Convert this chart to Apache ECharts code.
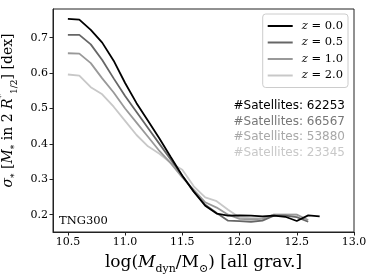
<!DOCTYPE html>
<html><head><meta charset="utf-8">
<script src="https://cdn.jsdelivr.net/npm/echarts@6/dist/echarts.min.js"></script>
<style>html,body{margin:0;padding:0;background:#fff}#c{width:374px;height:277px}</style>
</head><body><div id="c"></div>
<script>
const massBins = [10.5,10.6,10.7,10.8,10.9,11.0,11.1,11.2,11.3,11.4,11.5,11.6,11.7,11.8,11.9,12.0,12.1,12.2,12.3,12.4,12.5,12.6,12.7];
const sigmaZ00 = [0.753,0.751,0.722,0.686,0.635,0.572,0.515,0.465,0.415,0.362,0.310,0.265,0.225,0.203,0.197,0.198,0.197,0.195,0.197,0.194,0.182,0.198,0.195];
const sigmaZ05 = [0.708,0.708,0.681,0.637,0.585,0.535,0.490,0.445,0.400,0.355,0.310,0.265,0.228,0.205,0.183,0.182,0.180,0.183,0.197,0.197,0.193,0.180];
const sigmaZ10 = [0.656,0.655,0.628,0.585,0.545,0.500,0.460,0.420,0.380,0.345,0.305,0.270,0.235,0.220,0.200,0.188,0.187,0.188,0.200,0.200,0.200,0.185];
const sigmaZ20 = [0.596,0.593,0.560,0.540,0.505,0.465,0.425,0.393,0.372,0.346,0.327,0.280,0.249,0.238,0.214,0.192,0.190,0.190,0.200,0.200,0.200];
const seriesNames = ['z = 0.0','z = 0.5','z = 1.0','z = 2.0'];
const seriesColors = ['#000000','#666666','#999999','#c8c8c8'];
const satelliteCounts = [62253, 66567, 53880, 23345];
const satelliteColors = ['#000000','#777777','#a8a8a8','#c8c8c8'];
const xTicks = [10.5,11.0,11.5,12.0,12.5,13.0];
const yTicks = [0.2,0.3,0.4,0.5,0.6,0.7];

const allSigma = [sigmaZ00, sigmaZ05, sigmaZ10, sigmaZ20];
const serif = 'DejaVu Serif';
const chart = echarts.init(document.getElementById('c'), null, {renderer:'canvas'});

const series = allSigma.map((arr, i) => ({
  name: seriesNames[i],
  type: 'line',
  data: arr.map((v, j) => [massBins[j], v]),
  showSymbol: false,
  symbol: 'none',
  lineStyle: {color: seriesColors[i], width: 1.8},
  itemStyle: {color: seriesColors[i]},
  z: 10 - i
}));

const graphics = satelliteCounts.map((n, i) => ({
  type: 'text',
  right: 29,
  top: 100 + i * 15.6,
  style: {text: '#Satellites: ' + n, fill: satelliteColors[i], font: '12px "DejaVu Sans"'}
}));
graphics.push({
  type: 'text', left: 59, top: 215,
  style: {text: 'TNG300', fill: '#000', font: '11.5px "DejaVu Serif"'}
});

chart.setOption({
  animation: false,
  backgroundColor: '#fff',
  grid: {left: 53, right: 20, top: 9, bottom: 45, show: true, borderColor: '#222', borderWidth: 1, outerBoundsMode: 'none', containLabel: false},
  legend: {
    orient: 'vertical', right: 26, top: 14,
    data: seriesNames,
    icon: 'rect', itemWidth: 25, itemHeight: 2, itemGap: 4.5,
    padding: [6, 5, 6, 5],
    borderColor: '#ccc', borderWidth: 1, borderRadius: 3,
    backgroundColor: '#fff',
    formatter: name => '{i|z}' + name.slice(1),
    textStyle: {fontFamily: serif, fontSize: 11.5, color: '#000', padding: [0,0,0,4],
      rich: {i: {fontFamily: serif, fontStyle: 'italic', fontSize: 11.5, color: '#000'}}}
  },
  xAxis: {
    type: 'value', min: 10.37, max: 13.0,
    name: '{n|log(}{i|M}{s|dyn}{n|/M}{s|⊙}{n|) [all grav.]}',
    nameLocation: 'middle', nameGap: 19,
    nameTextStyle: {fontFamily: serif, fontSize: 17, color: '#000',
      rich: {
        n: {fontFamily: serif, fontSize: 17, color: '#000'},
        i: {fontFamily: serif, fontSize: 17, fontStyle: 'italic', color: '#000'},
        s: {fontFamily: serif, fontSize: 11, color: '#000', verticalAlign: 'bottom', lineHeight: 24}
      }},
    splitLine: {show: false},
    axisLine: {show: true, onZero: false, lineStyle: {color: '#222', width: 1}},
    axisTick: {show: true, length: 3.5, lineStyle: {color: '#222'}, customValues: xTicks},
    axisLabel: {customValues: xTicks, formatter: v => v.toFixed(1), fontFamily: serif, fontSize: 11, color: '#000', margin: 5}
  },
  yAxis: {
    type: 'value', min: 0.151, max: 0.781,
    name: '{i|σ}{s|*}{n| [}{i|M}{s|*}{n| in 2 }{i|R}{p|*}{s|1/2}{n|] [dex]}',
    nameLocation: 'middle', nameRotate: 90, nameGap: 31,
    nameTextStyle: {fontFamily: serif, fontSize: 14, color: '#000', padding: [0, 0, 0, 20],
      rich: {
        n: {fontFamily: serif, fontSize: 14, color: '#000'},
        i: {fontFamily: serif, fontSize: 14, fontStyle: 'italic', color: '#000'},
        s: {fontFamily: serif, fontSize: 9, color: '#000', verticalAlign: 'bottom', lineHeight: 22},
        p: {fontFamily: serif, fontSize: 9, color: '#000', verticalAlign: 'top', lineHeight: 22}
      }},
    splitLine: {show: false},
    axisLine: {show: true, onZero: false, lineStyle: {color: '#222', width: 1}},
    axisTick: {show: true, length: 3.5, lineStyle: {color: '#222'}, customValues: yTicks},
    axisLabel: {customValues: yTicks, formatter: v => v.toFixed(1), fontFamily: serif, fontSize: 11, color: '#000', margin: 5}
  },
  graphic: graphics,
  series: series
});
</script></body></html>
